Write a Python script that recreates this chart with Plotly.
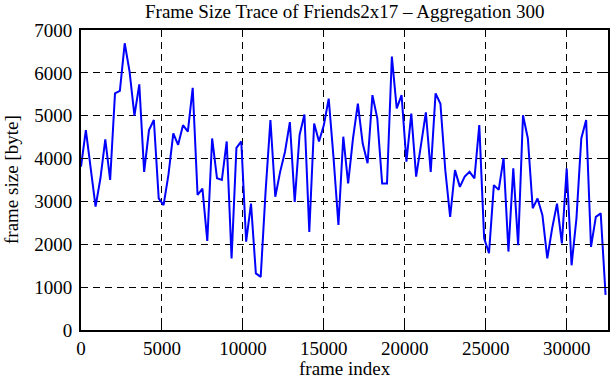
import plotly.graph_objects as go

step = 300
frame_size = [3810, 4666, 3770, 2877, 3540, 4450, 3500, 5520, 5580, 6690,
              6030, 5000, 5730, 3690, 4666, 4900, 3070, 2915, 3620, 4590,
              4320, 4780, 4630, 5650, 3150, 3300, 2080, 4470, 3540, 3500,
              4400, 1670, 4250, 4400, 2060, 2950, 1320, 1240, 3230, 4900,
              3110, 3690, 4160, 4850, 2990, 4550, 5030, 2290, 4820, 4400,
              4780, 5400, 4010, 2450, 4510, 3420, 4470, 5280, 4350, 3890,
              5480, 4940, 3420, 3420, 6380, 5170, 5480, 3930, 5050, 3580,
              4320, 5080, 3690, 5520, 5280, 3730, 2640, 3730, 3340, 3580,
              3690, 3540, 4780, 2140, 1790, 3380, 3270, 4010, 1830, 3770,
              1980, 5010, 4470, 2840, 3070, 2680, 1670, 2370, 2950, 2020,
              3770, 1510, 2600, 4470, 4900, 1940, 2640, 2720, 820]
frame_index = [i * step for i in range(len(frame_size))]

x_ticks = [0, 5000, 10000, 15000, 20000, 25000, 30000]
y_ticks = [0, 1000, 2000, 3000, 4000, 5000, 6000, 7000]

title_text = "Frame Size Trace of Friends2x17 \u2013 Aggregation 300"
x_title = "frame index"
y_title = "frame size [byte]"

FONT = "Liberation Serif"

fig = go.Figure()
fig.add_trace(go.Scatter(x=frame_index, y=frame_size, mode="lines",
                         line=dict(color="#0000ff", width=2), showlegend=False,
                         hoverinfo="skip"))

axis_common = dict(showline=True, linecolor="black", linewidth=2, mirror="ticks",
                   ticks="inside", ticklen=7, tickcolor="black", tickwidth=1,
                   showgrid=True, gridcolor="black", gridwidth=1, griddash="7px,5px",
                   zeroline=False, automargin=False,
                   tickfont=dict(family=FONT, size=19, color="black"))

fig.update_xaxes(range=[0, 32550], tickvals=x_ticks, ticktext=[str(v) for v in x_ticks],
                 **axis_common)
fig.update_yaxes(range=[0, 7000], tickvals=y_ticks, ticktext=[str(v) for v in y_ticks],
                 ticklabelstandoff=3, **axis_common)

fig.update_layout(
    width=611, height=380,
    margin=dict(l=81, r=3, t=30, b=50),
    paper_bgcolor="white", plot_bgcolor="white",
    font=dict(family=FONT, size=19, color="black"),
    annotations=[
        dict(text=title_text, x=0.5, y=1, xref="paper", yref="paper",
             xanchor="center", yanchor="middle", yshift=19, showarrow=False,
             borderpad=0, font=dict(family=FONT, size=19)),
        dict(text=x_title, x=0.5, y=0, xref="paper", yref="paper",
             xanchor="center", yanchor="middle", yshift=-38, showarrow=False,
             borderpad=0, font=dict(family=FONT, size=19)),
        dict(text=y_title, x=0, y=0.5, xref="paper", yref="paper",
             xanchor="center", yanchor="middle", xshift=-70, textangle=-90,
             showarrow=False, borderpad=0, font=dict(family=FONT, size=19)),
    ],
)

fig.write_html("out.html", config={"displayModeBar": False},
               post_script="document.body.style.margin='0';document.body.style.padding='0';")
